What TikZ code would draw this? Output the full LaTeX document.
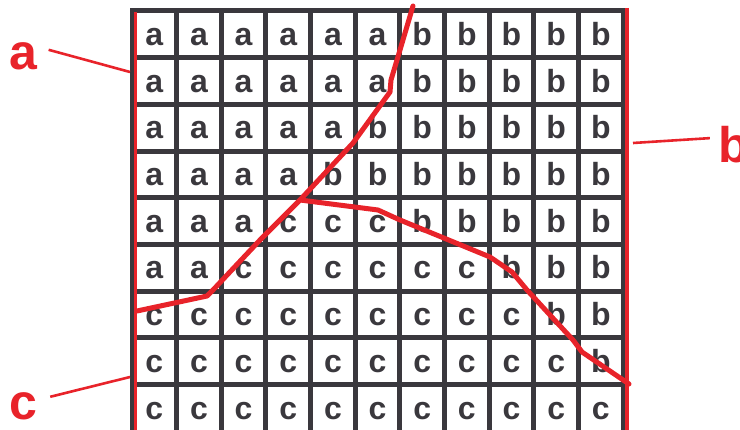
\documentclass[tikz,border=0pt]{standalone}
\usepackage{fontspec}
\setmainfont{Liberation Sans}
\usetikzlibrary{positioning}

\definecolor{rosso}{HTML}{E8232A}
\definecolor{griglia}{HTML}{3A383D}

\begin{document}
\begin{tikzpicture}[x=1pt, y=-1pt, line join=round]
	% Stili comuni
	\tikzset{
		cella/.style={
			anchor=base,
			inner sep=0pt,
			text=griglia,
			font=\fontsize{32}{36}\selectfont\bfseries
		},
		etichetta/.style={
			anchor=base,
			inner sep=0pt,
			text=rosso,
			font=\fontsize{50}{56}\selectfont\bfseries
		},
		linea/.style={griglia, line width=5pt, line cap=rect},
		confine/.style={rosso, line width=5pt, line cap=round},
		richiamo/.style={rosso, line width=2.6pt}
	}
	\useasboundingbox (0,0) rectangle (740,430);
	
	% Filo rosso sopra la griglia
	\draw[rosso!50, line width=0.8pt] (135,8.5) -- (627,8.5);
	
	% Griglia 11 x 9
	\foreach \i in {0,...,11}
		\draw[linea] ({132+44.65*\i},11) -- ({132+44.65*\i},430);
	\foreach \j in {0,...,8}
		\draw[linea] (132,{11+46.7*\j}) -- (623.2,{11+46.7*\j});
	
	% Lettere nelle celle
	\foreach \riga [count=\j from 0] in {
		{a,a,a,a,a,a,b,b,b,b,b},
		{a,a,a,a,a,a,b,b,b,b,b},
		{a,a,a,a,a,b,b,b,b,b,b},
		{a,a,a,a,b,b,b,b,b,b,b},
		{a,a,a,c,c,c,b,b,b,b,b},
		{a,a,c,c,c,c,c,c,b,b,b},
		{c,c,c,c,c,c,c,c,c,b,b},
		{c,c,c,c,c,c,c,c,c,c,b},
		{c,c,c,c,c,c,c,c,c,c,c}}
		\foreach \l [count=\i from 0] in \riga
			\node[cella] (c-\j-\i) at ({154.3+44.65*\i},{45.5+46.7*\j}) {\l};
	
	% Bordi rossi laterali
	\draw[rosso, line width=2.6pt] (135.3,12) -- (135.3,430);
	\draw[rosso, line width=3.6pt] (627.2,8) -- (627.2,430);
	
	% Confini tra le regioni
	\draw[confine] (413,6) -- (400,50) -- (391,80) -- (390,92) -- (353,143)
		-- (300,200);
	\draw[confine] (300,200) -- (260,240) -- (213,290) -- (207,296)
		-- (137,311);
	\draw[confine] (300,200) -- (378,210) -- (400,220) -- (490,257)
		-- (512,272) -- (527,290) -- (573,340) -- (582,352) -- (629,384);
	
	% Etichette con richiamo
	\node[etichetta] (la) at (23.5,70) {a};
	\node[etichetta] (lb) at (733.8,163) {b};
	\node[etichetta] (lc) at (23.5,420) {c};
	\coordinate (pa) at (130,72);
	\coordinate (pb) at (633,143);
	\coordinate (pc) at (130,377);
	\draw[richiamo] (la.east) ++(11,-7) -- (pa);
	\draw[richiamo] (lb.west) ++(-8.5,-7) -- (pb);
	\draw[richiamo] (lc.east) ++(12.6,-10) -- (pc);
\end{tikzpicture}
\end{document}
